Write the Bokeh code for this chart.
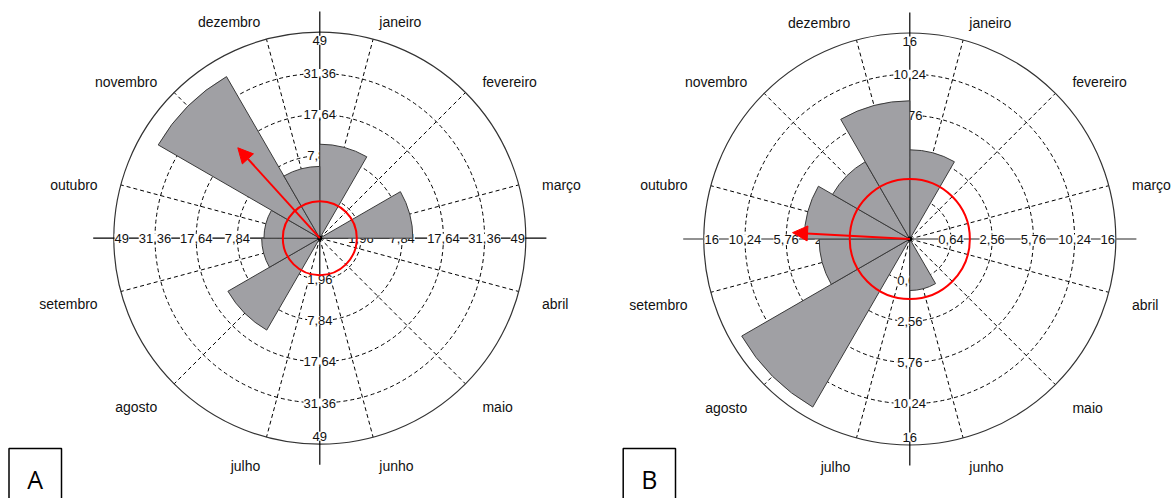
import numpy as np
from bokeh.plotting import figure
from bokeh.layouts import row
from bokeh.models import Range1d, Arrow, NormalHead
from bokeh.core.properties import value
from bokeh.embed import file_html
from bokeh.resources import INLINE

# ---------------- data ----------------
months = ["janeiro", "fevereiro", "março", "abril", "maio", "junho",
          "julho", "agosto", "setembro", "outubro", "novembro", "dezembro"]

freq_A = [10.2, 0, 10.0, 0, 0, 0, 0, 13.0, 3.9, 3.6, 40.2, 5.95]
freq_B = [3.0, 0, 0, 0, 0, 1.0, 0, 14.2, 3.1, 4.2, 3.0, 7.2]

rings_A = [1.96, 7.84, 17.64, 31.36, 49]
ring_labels_A = ["1,96", "7,84", "17,64", "31,36", "49"]
rings_B = [0.64, 2.56, 5.76, 10.24, 16]
ring_labels_B = ["0,64", "2,56", "5,76", "10,24", "16"]

mean_dir_A, mean_len_A = 317.8, 17.2   # degrees clockwise from north, value units
mean_dir_B, mean_len_B = 273.1, 5.2
circle_A = 1.58
circle_B = 1.36

FONT = "Liberation Sans"


def make_panel(freq, rings, ring_labels, mdir, mlen, circ, width, cx, cy,
               letter, box_l, box_r, haxis_color):
    H = 498
    R = np.sqrt(rings[-1])
    s = 206.0 / R  # px per sqrt-unit

    p = figure(width=width, height=H,
               x_range=Range1d(-cx / s, (width - cx) / s),
               y_range=Range1d(-(H - cy) / s, cy / s),
               output_backend="svg", toolbar_location=None,
               x_axis_location=None, y_axis_location=None,
               min_border=0, outline_line_color=None,
               background_fill_color="white", border_fill_color="white")
    p.grid.visible = False

    radii = np.sqrt(np.array(rings))
    # dashed rings
    n = len(radii) - 1
    p.circle(x=[0] * n, y=[0] * n, radius=list(radii[:-1]), fill_color=None,
             line_color="black", line_width=1, line_dash="4 3")
    # dashed radial lines at month centres
    th = np.deg2rad(15 + 30 * np.arange(12))
    p.segment(x0=[0] * 12, y0=[0] * 12, x1=list(R * np.sin(th)), y1=list(R * np.cos(th)),
              line_color="black", line_width=1, line_dash="4 3")
    # outer circle
    p.circle(x=[0], y=[0], radius=[R], fill_color=None, line_color="#333333", line_width=1.2)
    # axes
    ext = 1.1 * R
    p.segment(x0=[-ext], y0=[0], x1=[ext], y1=[0], line_color=haxis_color, line_width=1.3)
    p.segment(x0=[0], y0=[-ext], x1=[0], y1=[ext], line_color="black", line_width=1.2)

    # ring labels
    lx, ly, lt = [], [], []
    for i, (r, t) in enumerate(zip(radii, ring_labels)):
        rr = r - 8.0 / s if i == len(radii) - 1 else r
        for (ux, uy) in [(1, 0), (-1, 0), (0, 1), (0, -1)]:
            lx.append(ux * rr)
            ly.append(uy * rr)
            lt.append(t)
    p.text(x=lx, y=ly, text=lt, text_font=value(FONT), text_font_size="13px",
           text_align="center", text_baseline="middle", text_color="#111111",
           background_fill_color="white", padding=0)

    # sectors
    for k, v in enumerate(freq):
        if v <= 0:
            continue
        a0 = np.deg2rad(90 - 30 * (k + 1))
        a1 = np.deg2rad(90 - 30 * k)
        p.wedge(x=[0], y=[0], radius=[np.sqrt(v)], start_angle=[a0], end_angle=[a1],
                fill_color="#a0a0a4", line_color="#3a3a3a", line_width=1)

    # red circle
    p.circle(x=[0], y=[0], radius=[np.sqrt(circ)], fill_color=None,
             line_color="#ff0000", line_width=2)
    # mean arrow
    ml = np.sqrt(mlen)
    md = np.deg2rad(mdir)
    p.add_layout(Arrow(x_start=0, y_start=0, x_end=ml * np.sin(md), y_end=ml * np.cos(md),
                       line_color="#ff0000", line_width=2,
                       end=NormalHead(size=15, fill_color="#ff0000", line_color="#ff0000")))
    p.scatter(x=[0], y=[0], size=4, color="black")

    # month labels
    Rl = 230.0 / s
    thd = 15 + 30 * np.arange(12)
    for side, mask in (("left", thd < 180), ("right", thd > 180)):
        t = np.deg2rad(thd[mask])
        p.text(x=list(Rl * np.sin(t)), y=list(Rl * np.cos(t)),
               text=[m for m, ok in zip(months, mask) if ok],
               text_font=value(FONT), text_font_size="14px", text_color="#111111",
               text_align=side, text_baseline="middle", y_offset=6)

    # panel letter box
    def px(u, v):
        return (u - cx) / s, (cy - v) / s
    l, t = px(box_l, 448)
    r_, b = px(box_r, 530)
    p.quad(left=[l], right=[r_], top=[t], bottom=[b], fill_color=None,
           line_color="black", line_width=1.5)
    tx, ty = px((box_l + box_r) / 2, 478)
    p.text(x=[tx], y=[ty], text=[letter], text_font=value("Open Sans"),
           text_font_size="25px", text_align="center", text_baseline="middle",
           text_color="black")
    return p


pA = make_panel(freq_A, rings_A, ring_labels_A, mean_dir_A, mean_len_A, circle_A,
                608, 319.3, 237.7, "A", 8.5, 61, "black")
pB = make_panel(freq_B, rings_B, ring_labels_B, mean_dir_B, mean_len_B, circle_B,
                567, 301.3, 238.5, "B", 14.7, 67, "#6e6e6e")

layout = row(pA, pB)
open("out.html", "w").write(file_html(layout, INLINE))
